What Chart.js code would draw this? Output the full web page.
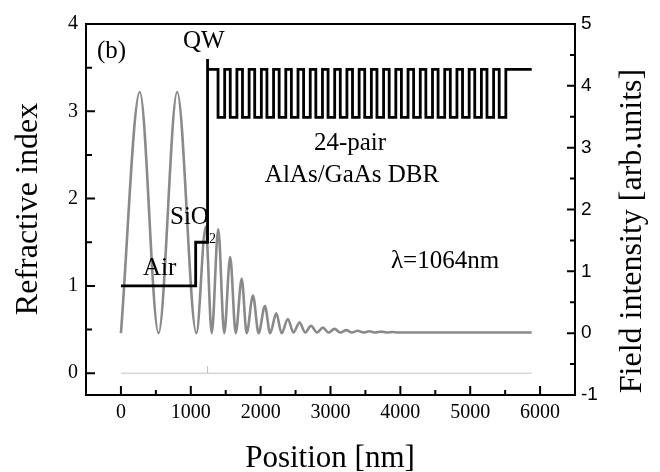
<!DOCTYPE html>
<html>
<head>
<meta charset="utf-8">
<script src="https://cdn.jsdelivr.net/npm/chart.js@4"></script>
<style>
  html, body { margin: 0; padding: 0; background: #fff; }
  canvas { display: block; }
</style>
</head>
<body>
<canvas id="profileChart" width="660" height="472"></canvas>
<script>
// refractive index profile: position where each layer starts [nm] and its index
// air, SiO2, QW marker, then 24 AlAs/GaAs pairs and the GaAs substrate
const layerStart = [0, 1070, 1240, 1240,
  1390, 1485, 1565, 1660, 1740, 1835, 1915, 2010, 2090, 2185, 2265, 2360,
  2440, 2535, 2615, 2710, 2790, 2885, 2965, 3060, 3140, 3235, 3315, 3410,
  3490, 3585, 3665, 3760, 3840, 3935, 4015, 4110, 4190, 4285, 4365, 4460,
  4540, 4635, 4715, 4810, 4890, 4985, 5065, 5160, 5240, 5335, 5415, 5510,
  5880];
const layerIndex = [1.0, 1.5, 3.6, 3.48,
  2.93, 3.48, 2.93, 3.48, 2.93, 3.48, 2.93, 3.48, 2.93, 3.48, 2.93, 3.48,
  2.93, 3.48, 2.93, 3.48, 2.93, 3.48, 2.93, 3.48, 2.93, 3.48, 2.93, 3.48,
  2.93, 3.48, 2.93, 3.48, 2.93, 3.48, 2.93, 3.48, 2.93, 3.48, 2.93, 3.48,
  2.93, 3.48, 2.93, 3.48, 2.93, 3.48, 2.93, 3.48, 2.93, 3.48, 2.93, 3.48,
  3.48];

// field intensity (peaks and troughs)
const fieldPos = [0, 270, 538, 805, 1080, 1214, 1300, 1393, 1479, 1564,
  1643, 1729, 1800, 1890, 1971, 2061, 2136, 2224, 2300, 2390,
  2469, 2557, 2639, 2721, 2806, 2890, 2971, 3057, 3143, 3224,
  3307, 3390, 3471, 3557, 3643, 3724, 3807, 3890, 3975, 5880];
const fieldVal = [0, 3.9, 0, 3.9, 0, 1.72, 0, 1.68, 0, 1.23,
  0, 0.88, 0, 0.61, 0, 0.44, 0, 0.32, 0, 0.23,
  0.01, 0.17, 0.01, 0.12, 0.01, 0.09, 0.01, 0.07, 0.01, 0.05,
  0.01, 0.04, 0.01, 0.03, 0.01, 0.025, 0.01, 0.02, 0.01, 0.01];

// thin reference line at n = 0 with the small QW mark
const basePos = [0, 1240, 1240, 1240, 5880];
const baseVal = [0, 0, 0.08, 0, 0];

const xTicks = [0, 1000, 2000, 3000, 4000, 5000, 6000];
const nTicks = [0, 1, 2, 3, 4];
const fTicks = [-1, 0, 1, 2, 3, 4, 5];

const serif = '"Liberation Serif", "Times New Roman", serif';
const sans = '"Liberation Sans", Arial, sans-serif';

const toPoints = (xs, ys) => xs.map((x, i) => ({ x: x, y: ys[i] }));

// frame, inward ticks and the text labels on the plot
const decorations = {
  id: 'decorations',
  afterDraw(chart) {
    const { ctx, chartArea: a, scales } = chart;
    ctx.save();
    ctx.strokeStyle = '#000';
    ctx.lineWidth = 2;
    ctx.strokeRect(a.left, a.top, a.right - a.left, a.bottom - a.top);

    ctx.lineWidth = 2;
    ctx.beginPath();
    for (let v = 0; v <= 6000; v += 500) {
      const px = scales.x.getPixelForValue(v);
      const len = v % 1000 === 0 ? 9 : 5;
      ctx.moveTo(px, a.bottom);
      ctx.lineTo(px, a.bottom - len);
    }
    for (let v = 0; v <= 4; v += 0.5) {
      const py = scales.y.getPixelForValue(v);
      const len = v % 1 === 0 ? 9 : 6;
      ctx.moveTo(a.left, py);
      ctx.lineTo(a.left + len, py);
    }
    for (let v = -1; v <= 5; v += 0.5) {
      const py = scales.y2.getPixelForValue(v);
      const len = v % 1 === 0 ? 8 : 5;
      ctx.moveTo(a.right, py);
      ctx.lineTo(a.right - len, py);
    }
    ctx.stroke();

    ctx.fillStyle = '#000';
    ctx.textBaseline = 'alphabetic';
    ctx.font = '25px ' + serif;
    ctx.textAlign = 'left';
    ctx.fillText('(b)', 97, 58);
    ctx.fillText('QW', 183, 48);
    ctx.fillText('Air', 143, 275);
    ctx.fillText('SiO', 170, 224);
    const sioW = ctx.measureText('SiO').width;
    ctx.textAlign = 'center';
    ctx.fillText('24-pair', 350, 150);
    ctx.fillText('AlAs/GaAs DBR', 352, 182);
    ctx.fillText('λ=1064nm', 445, 268);
    ctx.textAlign = 'left';
    ctx.font = '14px ' + serif;
    ctx.fillText('2', 170 + sioW, 243);

    // axis titles
    ctx.textAlign = 'center';
    ctx.font = '31px ' + serif;
    ctx.fillText('Position [nm]', 330, 467);
    ctx.font = '32px ' + serif;
    ctx.save();
    ctx.translate(37, 209);
    ctx.rotate(-Math.PI / 2);
    ctx.fillText('Refractive index', 0, 0);
    ctx.restore();
    ctx.save();
    ctx.translate(641, 231);
    ctx.rotate(-Math.PI / 2);
    ctx.fillText('Field intensity [arb.units]', 0, 0);
    ctx.restore();
    ctx.restore();
  }
};

new Chart(document.getElementById('profileChart').getContext('2d'), {
  type: 'line',
  data: {
    datasets: [
      {
        label: 'Refractive index',
        data: toPoints(layerStart, layerIndex),
        yAxisID: 'y',
        stepped: true,
        borderColor: '#000',
        borderWidth: 2.8,
        pointRadius: 0,
      },
      {
        label: 'Reference',
        data: toPoints(basePos, baseVal),
        yAxisID: 'y',
        borderColor: '#c4c4c4',
        borderWidth: 1,
        pointRadius: 0,
      },
      {
        label: 'Field intensity',
        data: toPoints(fieldPos, fieldVal),
        yAxisID: 'y2',
        cubicInterpolationMode: 'monotone',
        borderColor: '#8a8a8a',
        borderWidth: 2.6,
        pointRadius: 0,
      },
    ],
  },
  options: {
    responsive: false,
    animation: false,
    devicePixelRatio: 1,
    layout: { padding: { top: 24, left: 0, right: 0, bottom: 0 } },
    plugins: { legend: { display: false }, tooltip: { enabled: false } },
    scales: {
      x: {
        type: 'linear',
        min: -500,
        max: 6500,
        afterBuildTicks: (s) => { s.ticks = xTicks.map((v) => ({ value: v })); },
        afterFit: (s) => { s.height = 77; },
        grid: { display: false, drawTicks: false },
        border: { display: false },
        ticks: { autoSkip: false, maxRotation: 0, padding: 6, color: '#000',
          font: { family: serif, size: 20 },
          callback: (v) => String(v) },
      },
      y: {
        position: 'left',
        min: -0.25,
        max: 4,
        afterBuildTicks: (s) => { s.ticks = nTicks.map((v) => ({ value: v })); },
        afterFit: (s) => { s.width = 86; },
        grid: { display: false, drawTicks: false },
        border: { display: false },
        ticks: { autoSkip: false, padding: 8, color: '#000',
          font: { family: serif, size: 20 },
          callback: (v) => String(v) },
      },
      y2: {
        position: 'right',
        min: -1,
        max: 5,
        afterBuildTicks: (s) => { s.ticks = fTicks.map((v) => ({ value: v })); },
        afterFit: (s) => { s.width = 85; },
        grid: { display: false, drawTicks: false },
        border: { display: false },
        ticks: { autoSkip: false, padding: 6, color: '#000',
          font: { family: sans, size: 19 },
          callback: (v) => String(v) },
      },
    },
  },
  plugins: [decorations],
});
</script>
</body>
</html>
